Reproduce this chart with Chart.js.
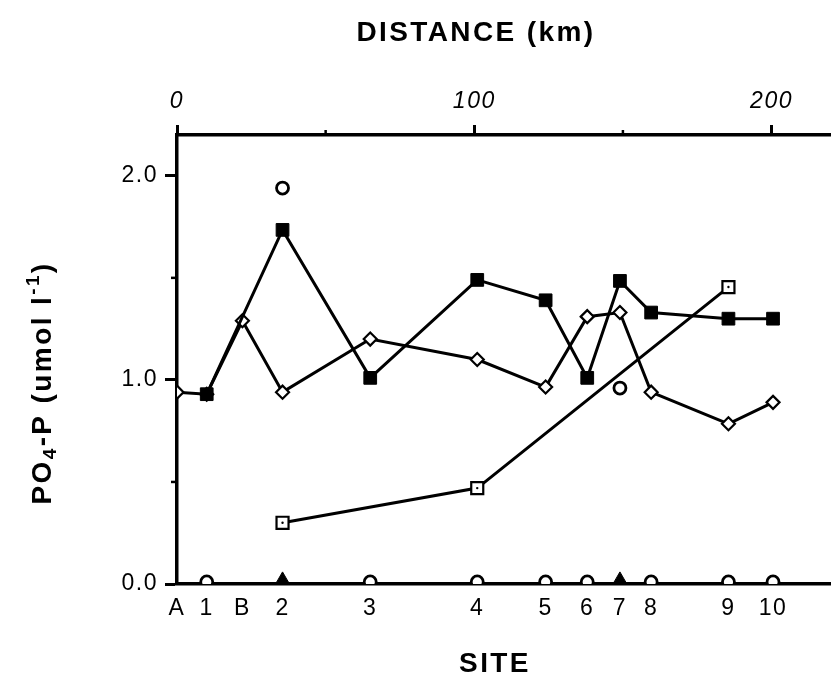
<!DOCTYPE html>
<html>
<head>
<meta charset="utf-8">
<script src="https://cdn.jsdelivr.net/npm/chart.js@4.4.1/dist/chart.umd.min.js"></script>
<style>
  html, body { margin: 0; padding: 0; background: #fff; }
</style>
</head>
<body>
<canvas id="po4Chart" width="831" height="682"></canvas>
<script>
// sites and their distance downstream (km)
const siteLabels = ['A', '1', 'B', '2', '3', '4', '5', '6', '7', '8', '9', '10'];
const siteKm = [0, 10, 22, 35.5, 65, 101, 124, 138, 149, 159.5, 185.5, 200.5];

// PO4-P (umol l-1) per site, null = no sample
const filledSquare = [null, 0.93, null, 1.735, 1.01, 1.49, 1.39, 1.01, 1.485, 1.33, 1.30, 1.30];
const openDiamond  = [0.94, 0.93, 1.29, 0.94, 1.20, 1.10, 0.965, 1.31, 1.33, 0.94, 0.785, 0.89];
const openSquare   = [null, null, null, 0.30, null, 0.47, null, null, null, null, 1.455, null];
const openCircle   = [null, 0.01, null, 1.94, 0.01, 0.01, 0.01, 0.01, 0.96, 0.01, 0.01, 0.01];
const filledZero   = [null, null, null, 0.025, null, null, null, null, 0.025, null, null, null];

const kmTicks = [0, 100, 200];
const kmMinor = [50, 150];
const yTicks = [0, 1, 2];
const yMinor = [0.5, 1.5];

const FONT = '"Liberation Sans", Arial, Helvetica, sans-serif';

function toPoints(arr) {
  return arr.map((v, i) => v === null ? null : { x: siteKm[i], y: v }).filter(p => p);
}

const spacing = {
  id: 'spacing',
  beforeUpdate(chart) { chart.ctx.letterSpacing = '1.5px'; },
  beforeDraw(chart) { chart.ctx.letterSpacing = '1.5px'; }
};

const minorTicks = {
  id: 'minorTicks',
  afterDraw(chart) {
    const ctx = chart.ctx, top = chart.scales.x2, left = chart.scales.y;
    ctx.save();
    ctx.strokeStyle = '#000';
    ctx.lineWidth = 2.5;
    kmMinor.forEach(v => {
      const px = top.getPixelForValue(v);
      ctx.beginPath(); ctx.moveTo(px, top.bottom); ctx.lineTo(px, top.bottom - 5); ctx.stroke();
    });
    yMinor.forEach(v => {
      const py = left.getPixelForValue(v);
      ctx.beginPath(); ctx.moveTo(left.right, py); ctx.lineTo(left.right - 6, py); ctx.stroke();
    });
    ctx.restore();
  }
};

const titles = {
  id: 'titles',
  afterDraw(chart) {
    const ctx = chart.ctx;
    ctx.save();
    ctx.fillStyle = '#000';
    ctx.letterSpacing = '2.4px';
    ctx.textAlign = 'center';
    ctx.textBaseline = 'middle';
    ctx.font = 'bold 28px ' + FONT;
    ctx.fillText('DISTANCE (km)', 476, 33);
    ctx.fillText('SITE', 495, 664);

    // y title with subscript / superscript, rotated
    const parts = [
      { t: 'PO', s: 28, dy: 0 },
      { t: '4', s: 19, dy: 8 },
      { t: '-P (umol l', s: 28, dy: 0 },
      { t: '-1', s: 19, dy: -9 },
      { t: ')', s: 28, dy: 0 }
    ];
    ctx.translate(43, 383);
    ctx.rotate(-Math.PI / 2);
    ctx.textAlign = 'left';
    let total = 0;
    parts.forEach(p => { ctx.font = 'bold ' + p.s + 'px ' + FONT; p.w = ctx.measureText(p.t).width; total += p.w; });
    let x = -total / 2;
    parts.forEach(p => { ctx.font = 'bold ' + p.s + 'px ' + FONT; ctx.fillText(p.t, x, p.dy); x += p.w; });
    ctx.restore();
  }
};

const ctx = document.getElementById('po4Chart').getContext('2d');

const po4Chart = new Chart(ctx, {
  type: 'scatter',
  data: {
    datasets: [
      {
        label: 'filled square',
        data: toPoints(filledSquare),
        showLine: true,
        borderColor: '#000',
        borderWidth: 3,
        pointStyle: 'rect',
        pointRadius: 9,
        pointBackgroundColor: '#000',
        pointBorderColor: '#000',
        pointBorderWidth: 1
      },
      {
        label: 'open diamond',
        data: toPoints(openDiamond),
        showLine: true,
        borderColor: '#000',
        borderWidth: 3,
        pointStyle: 'rectRot',
        pointRadius: 6.5,
        pointBackgroundColor: '#fff',
        pointBorderColor: '#000',
        pointBorderWidth: 2.2
      },
      {
        label: 'open square dot',
        data: toPoints(openSquare),
        showLine: false,
        pointStyle: 'circle',
        pointRadius: 1.2,
        pointBackgroundColor: '#000',
        pointBorderWidth: 0
      },
      {
        label: 'open square',
        data: toPoints(openSquare),
        showLine: true,
        borderColor: '#000',
        borderWidth: 3,
        pointStyle: 'rect',
        pointRadius: 8.5,
        pointBackgroundColor: '#fff',
        pointBorderColor: '#000',
        pointBorderWidth: 2.2
      },
      {
        label: 'open circle',
        data: toPoints(openCircle),
        showLine: false,
        pointStyle: 'circle',
        pointRadius: 6,
        pointBackgroundColor: '#fff',
        pointBorderColor: '#000',
        pointBorderWidth: 2.8
      },
      {
        label: 'filled at zero',
        data: toPoints(filledZero),
        showLine: false,
        pointStyle: 'triangle',
        pointRadius: 7,
        pointBackgroundColor: '#000',
        pointBorderColor: '#000',
        pointBorderWidth: 1
      }
    ]
  },
  options: {
    responsive: false,
    animation: false,
    devicePixelRatio: 1,
    layout: { padding: 0, autoPadding: false },
    scales: {
      x: {
        type: 'linear',
        position: 'bottom',
        min: 0,
        max: 220,
        afterBuildTicks: s => { s.ticks = siteKm.map(v => ({ value: v })); },
        afterFit: s => { s.height = 98; },
        ticks: {
          autoSkip: false,
          maxRotation: 0,
          color: '#000',
          padding: 11,
          font: { family: FONT, size: 23 },
          callback: (v, i) => siteLabels[i]
        },
        grid: { display: false, drawTicks: false },
        border: { display: true, color: '#000', width: 3.5 }
      },
      x2: {
        type: 'linear',
        position: 'top',
        min: 0,
        max: 220,
        afterBuildTicks: s => { s.ticks = kmTicks.map(v => ({ value: v })); },
        afterFit: s => { s.height = 135; },
        ticks: {
          color: '#000',
          padding: 10,
          font: { family: FONT, size: 23, style: 'italic' }
        },
        grid: { drawOnChartArea: false, tickLength: 10, tickWidth: 3, tickColor: '#000' },
        border: { color: '#000', width: 3.5 }
      },
      y: {
        min: 0,
        max: 2.2,
        afterBuildTicks: s => { s.ticks = yTicks.map(v => ({ value: v })); },
        afterFit: s => { s.width = 177; },
        ticks: {
          color: '#000',
          padding: 7,
          font: { family: FONT, size: 23 },
          callback: v => v.toFixed(1)
        },
        grid: { drawOnChartArea: false, tickLength: 12, tickWidth: 3, tickColor: '#000' },
        border: { color: '#000', width: 3.5 }
      }
    },
    plugins: {
      legend: { display: false },
      tooltip: { enabled: false }
    }
  },
  plugins: [spacing, minorTicks, titles]
});
</script>
</body>
</html>
